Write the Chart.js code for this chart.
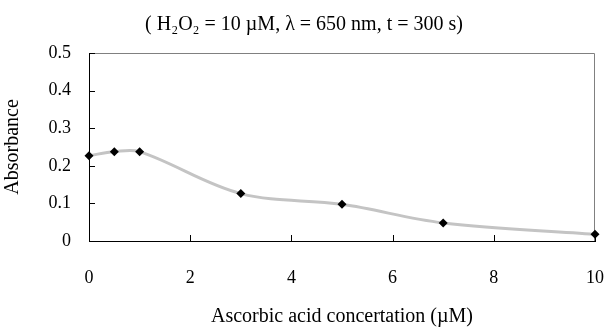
<!DOCTYPE html>
<html>
<head>
<meta charset="utf-8">
<script src="https://cdn.jsdelivr.net/npm/chart.js@4"></script>
<style>
  html, body { margin: 0; padding: 0; background: #fff; }
  #wrap { width: 608px; height: 329px; }
</style>
</head>
<body>
<div id="wrap"><canvas id="absChart" width="608" height="329"></canvas></div>
<script>
// concentration of ascorbic acid (uM) and measured absorbance
const concentrations = [0, 0.5, 1, 3, 5, 7, 10];
const absorbance = [0.227, 0.2375, 0.2375, 0.126, 0.0975, 0.048, 0.018];
const xTicks = [0, 2, 4, 6, 8, 10];
const yTicks = [0, 0.1, 0.2, 0.3, 0.4, 0.5];

const titleText = '( H\u2082O\u2082 = 10 \u00B5M, \u03BB = 650 nm, t = 300 s)';
const fontFamily = '"Liberation Serif", "DejaVu Serif", serif';

// frame on top/right + tick marks pointing into the plot (excel style)
const frameTicks = {
    id: 'frameTicks',
    beforeDatasetsDraw(chart) {
        const ctx = chart.ctx;
        const a = chart.chartArea;
        const xs = chart.scales.x, ys = chart.scales.y;
        ctx.save();
        ctx.strokeStyle = '#808080';
        ctx.lineWidth = 1;
        ctx.beginPath();
        ctx.moveTo(a.left, a.top + 0.5);
        ctx.lineTo(a.right - 0.5, a.top + 0.5);
        ctx.lineTo(a.right - 0.5, a.bottom);
        ctx.stroke();

        ctx.strokeStyle = '#000';
        ctx.beginPath();
        xTicks.forEach(v => {
            const px = Math.round(xs.getPixelForValue(v)) + 0.5;
            ctx.moveTo(px, a.bottom);
            ctx.lineTo(px, a.bottom - 6);
        });
        yTicks.forEach(v => {
            const py = Math.round(ys.getPixelForValue(v)) + 0.5;
            ctx.moveTo(a.left, py);
            ctx.lineTo(a.left + 6, py);
        });
        ctx.stroke();
        ctx.restore();
    }
};

const ctx = document.getElementById('absChart').getContext('2d');
const absChart = new Chart(ctx, {
    type: 'scatter',
    data: {
        datasets: [{
            data: concentrations.map((c, i) => ({x: c, y: absorbance[i]})),
            showLine: true,
            borderColor: '#c4c4c4',
            borderWidth: 3,
            tension: 0.35,
            pointStyle: 'rectRot',
            pointRadius: 4.5,
            pointBackgroundColor: '#000',
            pointBorderColor: '#000',
            pointBorderWidth: 0,
            clip: false
        }]
    },
    options: {
        responsive: false,
        animation: false,
        // left padding = right padding so the top title sits in the middle of the canvas
        layout: { padding: { left: 13, right: 13, top: 0, bottom: 0 } },
        plugins: {
            legend: { display: false },
            tooltip: { enabled: false },
            title: {
                display: true,
                text: titleText,
                color: '#000',
                font: { family: fontFamily, size: 20, weight: 'normal' },
                padding: { top: 13, bottom: 16 }
            }
        },
        scales: {
            x: {
                type: 'linear',
                min: 0,
                max: 10,
                afterBuildTicks: (scale) => { scale.ticks = xTicks.map(v => ({value: v})); },
                grid: { display: false, drawTicks: false },
                border: { display: true, color: '#000', width: 1 },
                ticks: { color: '#000', padding: 26, font: { family: fontFamily, size: 18 } },
                title: {
                    display: true,
                    text: 'Ascorbic acid concertation (\u00B5M)',
                    color: '#000',
                    font: { family: fontFamily, size: 20 },
                    padding: { top: 0, bottom: 0 }
                },
                afterFit: (scale) => {
                    scale.height = 88;
                    scale.paddingLeft = 0;
                    scale.paddingRight = 0;
                }
            },
            y: {
                min: 0,
                max: 0.5,
                afterBuildTicks: (scale) => { scale.ticks = yTicks.map(v => ({value: v})); },
                grid: { display: false, drawTicks: false },
                border: { display: true, color: '#000', width: 1 },
                ticks: { color: '#000', padding: 18, font: { family: fontFamily, size: 18 } },
                title: {
                    display: true,
                    text: 'Absorbance',
                    color: '#000',
                    font: { family: fontFamily, size: 20 },
                    padding: { top: -12, bottom: 0 }
                },
                afterFit: (scale) => {
                    scale.width = 76;
                    scale.paddingTop = 0;
                    scale.paddingBottom = 0;
                }
            }
        }
    },
    plugins: [frameTicks]
});
</script>
</body>
</html>
